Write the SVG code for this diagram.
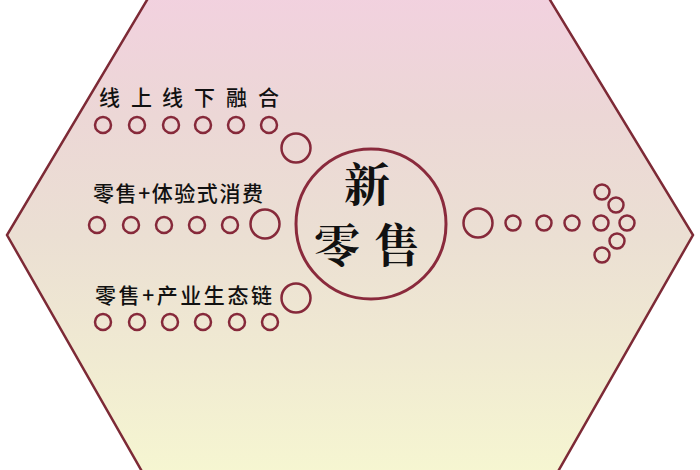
<svg xmlns="http://www.w3.org/2000/svg" width="700" height="470" viewBox="0 0 700 470">
<defs>
<linearGradient id="bg" x1="0" y1="0" x2="0" y2="1">
<stop offset="0" stop-color="#f2d1df"/>
<stop offset="0.25" stop-color="#ecd7d6"/>
<stop offset="0.5" stop-color="#ebdfd3"/>
<stop offset="0.75" stop-color="#f0ead2"/>
<stop offset="1" stop-color="#f6f6d1"/>
</linearGradient>
<style>
.ring{fill:none;stroke:#86293a;stroke-width:2.5}
.lbl{font-family:"Noto Sans CJK SC","Noto Sans",sans-serif;font-size:21px;font-weight:500;fill:#111}
.big{font-family:"Noto Serif CJK SC","Noto Sans CJK SC",serif;font-size:46px;font-weight:bold;fill:#111}
</style>
</defs>
<rect width="700" height="470" fill="#ffffff"/>
<g id="hexagon">
<polygon points="150,-5 547,-5 693,235 556,475 144,475 7,235" fill="url(#bg)" stroke="#7d2a36" stroke-width="2.5"/>
</g>
<g id="node-center">
<circle cx="371" cy="224" r="75" fill="none" stroke="#8a2a3c" stroke-width="3"/>
<text class="big" x="367" y="201" text-anchor="middle">新</text>
<text class="big" x="337" y="262" text-anchor="middle">零</text>
<text class="big" x="397" y="262" text-anchor="middle">售</text>
</g>
<g id="node-row1">
<text class="lbl" x="99 131 162 194 226 258" y="105">线上线下融合</text>
</g>
<g id="node-row2">
<text class="lbl" x="93" y="201" textLength="170" lengthAdjust="spacing">零售+体验式消费</text>
</g>
<g id="node-row3">
<text class="lbl" x="95" y="303" textLength="177" lengthAdjust="spacing">零售+产业生态链</text>
</g>
<g id="connectors">
<circle class="ring" cx="103" cy="125" r="8"/>
<circle class="ring" cx="137" cy="125" r="8"/>
<circle class="ring" cx="171" cy="125" r="8"/>
<circle class="ring" cx="203" cy="125" r="8"/>
<circle class="ring" cx="236" cy="125" r="8"/>
<circle class="ring" cx="269" cy="125" r="8"/>
<circle class="ring" cx="296" cy="148" r="14.5"/>
<circle class="ring" cx="97" cy="225" r="8"/>
<circle class="ring" cx="131" cy="225" r="8"/>
<circle class="ring" cx="164" cy="225" r="8"/>
<circle class="ring" cx="197" cy="225" r="8"/>
<circle class="ring" cx="230" cy="225" r="8"/>
<circle class="ring" cx="265" cy="224" r="14.5"/>
<circle class="ring" cx="296" cy="298" r="14.5"/>
<circle class="ring" cx="103" cy="322" r="8"/>
<circle class="ring" cx="137" cy="322" r="8"/>
<circle class="ring" cx="170" cy="322" r="8"/>
<circle class="ring" cx="203" cy="322" r="8"/>
<circle class="ring" cx="237" cy="322" r="8"/>
<circle class="ring" cx="270" cy="322" r="8"/>
<circle class="ring" cx="478" cy="223" r="14.5"/>
<circle class="ring" cx="513" cy="223" r="7.5"/>
<circle class="ring" cx="544" cy="223" r="7.5"/>
<circle class="ring" cx="572" cy="223" r="7.5"/>
<circle class="ring" cx="601" cy="223" r="7.5"/>
<circle class="ring" cx="627" cy="223" r="7.5"/>
<circle class="ring" cx="602" cy="192" r="7.5"/>
<circle class="ring" cx="616" cy="205" r="7.5"/>
<circle class="ring" cx="617" cy="241" r="7.5"/>
<circle class="ring" cx="602" cy="255" r="7.5"/>
</g>
</svg>
